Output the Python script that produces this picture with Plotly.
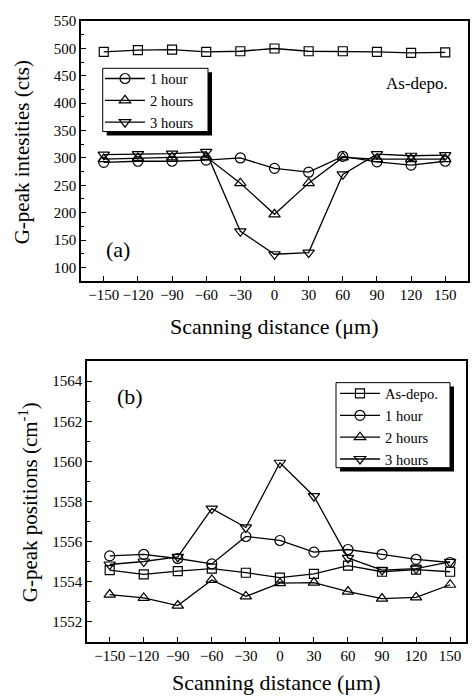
import plotly.graph_objects as go

# ---------------- data ----------------
x_dist = [-150, -120, -90, -60, -30, 0, 30, 60, 90, 120, 150]
series_names = ["As-depo.", "1 hour", "2 hours", "3 hours"]
symbols = ["square-open", "circle-open", "triangle-up-open", "triangle-down-open"]

int_asdepo = [494, 497, 498, 494, 495, 500, 495, 495, 494, 492, 493]
int_1h = [292, 294, 294, 296, 300, 281, 274, 303, 293, 287, 294]
int_2h = [298, 300, 301, 302, 254, 197, 254, 301, 298, 298, 298]
int_3h = [306, 307, 308, 311, 166, 124, 127, 270, 307, 304, 305]

pos_asdepo = [1554.57, 1554.36, 1554.52, 1554.65, 1554.44, 1554.20, 1554.38, 1554.79, 1554.49, 1554.60, 1554.49]
pos_1h = [1555.28, 1555.36, 1555.15, 1554.88, 1556.25, 1556.05, 1555.47, 1555.60, 1555.36, 1555.11, 1554.95]
pos_2h = [1553.35, 1553.18, 1552.80, 1554.08, 1553.26, 1553.92, 1553.95, 1553.50, 1553.15, 1553.21, 1553.84]
pos_3h = [1554.85, 1555.00, 1555.23, 1557.64, 1556.70, 1559.93, 1558.26, 1555.18, 1554.57, 1554.65, 1554.98]

x_ticks = [-150, -120, -90, -60, -30, 0, 30, 60, 90, 120, 150]

# ---------------- layout helpers ----------------
W, H = 473, 697
FONT = "Liberation Serif, Times New Roman, serif"


def px(xp):
    return xp / W


def py(yp):
    return 1 - yp / H


fig = go.Figure()

int_series = [int_asdepo, int_1h, int_2h, int_3h]
pos_series = [pos_asdepo, pos_1h, pos_2h, pos_3h]
msizes = [9, 10, 10, 10]

for i, (name, sym, ys) in enumerate(zip(series_names, symbols, int_series)):
    fig.add_trace(go.Scatter(
        x=x_dist, y=ys, name=name, mode="lines+markers",
        xaxis="x", yaxis="y",
        line=dict(color="black", width=1.3),
        marker=dict(symbol=sym, size=msizes[i], color="black", line=dict(width=1.2)),
        showlegend=(i > 0), legend="legend",
    ))

for i, (name, sym, ys) in enumerate(zip(series_names, symbols, pos_series)):
    fig.add_trace(go.Scatter(
        x=x_dist, y=ys, name=name, mode="lines+markers",
        xaxis="x2", yaxis="y2",
        line=dict(color="black", width=1.3),
        marker=dict(symbol=sym, size=msizes[i], color="black", line=dict(width=1.2)),
        showlegend=True, legend="legend2",
    ))

axis_common = dict(
    showline=True, linecolor="black", linewidth=1.5, mirror=True,
    ticks="inside", ticklen=5, tickwidth=1.2, tickcolor="black",
    showgrid=False, zeroline=False,
    tickfont=dict(family=FONT, size=15, color="black"),
)

# panel (a) pixel box
ax_l, ax_r, ay_t, ay_b = 81, 468, 13.3, 275.7
# panel (b) pixel box
bx_l, bx_r, by_t, by_b = 87, 466, 357.3, 641

LEG_FONT = dict(family=FONT, size=14.5, color="black")

fig.update_layout(
    width=W, height=H,
    margin=dict(l=0, r=0, t=0, b=0),
    paper_bgcolor="white", plot_bgcolor="white",
    font=dict(family=FONT, color="black"),
    xaxis=dict(axis_common, domain=[px(ax_l), px(ax_r)], range=[-170, 170],
               tickvals=x_ticks, anchor="y"),
    yaxis=dict(axis_common, domain=[py(ay_b), py(ay_t)], range=[76, 550],
               dtick=50, tick0=0, anchor="x",
               minor=dict(ticks="inside", ticklen=3, dtick=25, tickcolor="black")),
    xaxis2=dict(axis_common, domain=[px(bx_l), px(bx_r)], range=[-170, 164],
                tickvals=x_ticks, anchor="y2"),
    yaxis2=dict(axis_common, domain=[py(by_b), py(by_t)], range=[1551, 1565],
                dtick=2, tick0=1550, anchor="x2",
                minor=dict(ticks="inside", ticklen=3, dtick=1, tickcolor="black")),
    legend=dict(
        x=px(100), y=py(55.2), xanchor="left", yanchor="top",
        bgcolor="rgba(0,0,0,0)", borderwidth=0,
        font=LEG_FONT, itemwidth=40, tracegroupgap=0,
    ),
    legend2=dict(
        x=px(335), y=py(373.8), xanchor="left", yanchor="top",
        bgcolor="rgba(0,0,0,0)", borderwidth=0,
        font=LEG_FONT, itemwidth=40, tracegroupgap=0,
    ),
    showlegend=True,
)

# legend frames with drop shadows
for (l, t, r, b) in [(102.7, 61, 208, 125), (336, 379, 450, 465)]:
    fig.add_shape(type="rect", xref="paper", yref="paper",
                  x0=px(l + 4), x1=px(r + 4), y0=py(b + 4), y1=py(t + 4),
                  fillcolor="black", line=dict(width=0), layer="above")
    fig.add_shape(type="rect", xref="paper", yref="paper",
                  x0=px(l), x1=px(r), y0=py(b), y1=py(t),
                  fillcolor="white", line=dict(color="black", width=1), layer="above")

TXT = dict(xref="paper", yref="paper", showarrow=False,
           xanchor="center", yanchor="middle")
ann = [
    dict(TXT, text="Scanning distance (\u03bcm)", x=px((ax_l + ax_r) / 2), y=py(322),
         font=dict(family=FONT, size=22)),
    dict(TXT, text="Scanning distance (\u03bcm)", x=px((bx_l + bx_r) / 2), y=py(682),
         font=dict(family=FONT, size=22)),
    dict(TXT, text="G-peak intesities (cts)", x=px(22), y=py(146), textangle=-90,
         font=dict(family=FONT, size=21)),
    dict(TXT, text="G-peak positions (cm<sup>-1</sup>)", x=px(28), y=py(500), textangle=-90,
         font=dict(family=FONT, size=21)),
    dict(TXT, text="(a)", x=px(118), y=py(244), font=dict(family=FONT, size=22)),
    dict(TXT, text="(b)", x=px(130), y=py(393), font=dict(family=FONT, size=22)),
    dict(TXT, text="As-depo.", x=px(417), y=py(76), font=dict(family=FONT, size=17)),
]
fig.update_layout(annotations=ann)

fig.write_html("out.html")
